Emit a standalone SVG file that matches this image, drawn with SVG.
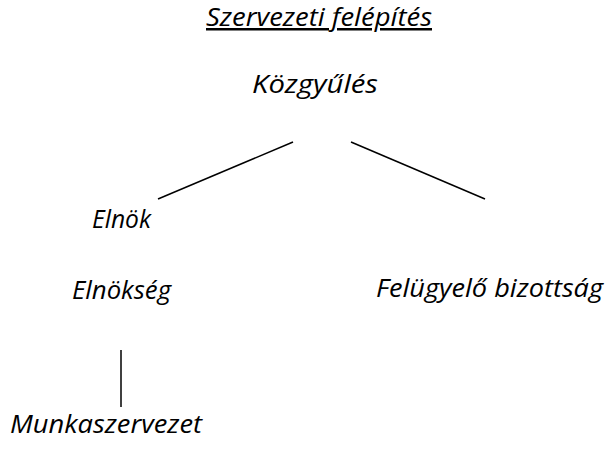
<svg xmlns="http://www.w3.org/2000/svg" width="605" height="450" viewBox="0 0 605 450">
  <style>
    .t { font-family: "Open Sans", "Liberation Sans", Arial, sans-serif; font-style: italic; font-size: 25px; fill: #000; }
    .c { stroke: #000; stroke-width: 1.5; fill: none; }
  </style>
  <rect width="605" height="450" fill="#fff"/>
  <g id="title">
    <text class="t" x="206" y="26" textLength="226" lengthAdjust="spacingAndGlyphs" text-decoration="underline">Szervezeti felépítés</text>
  </g>
  <g id="kozgyules">
    <text class="t" x="252" y="93" textLength="126" lengthAdjust="spacingAndGlyphs">Közgyűlés</text>
  </g>
  <g id="elnok">
    <text class="t" x="92" y="228" textLength="59" lengthAdjust="spacingAndGlyphs">Elnök</text>
  </g>
  <g id="elnokseg">
    <text class="t" x="72" y="299" textLength="99" lengthAdjust="spacingAndGlyphs">Elnökség</text>
  </g>
  <g id="felugyelo">
    <text class="t" x="376" y="297" textLength="227" lengthAdjust="spacingAndGlyphs">Felügyelő bizottság</text>
  </g>
  <g id="munkaszervezet">
    <text class="t" x="10" y="433" textLength="192" lengthAdjust="spacingAndGlyphs">Munkaszervezet</text>
  </g>
  <g id="connectors">
    <line class="c" x1="293" y1="142" x2="158" y2="199"/>
    <line class="c" x1="351" y1="142" x2="485" y2="199"/>
    <line class="c" x1="121" y1="350" x2="121" y2="407"/>
  </g>
</svg>
